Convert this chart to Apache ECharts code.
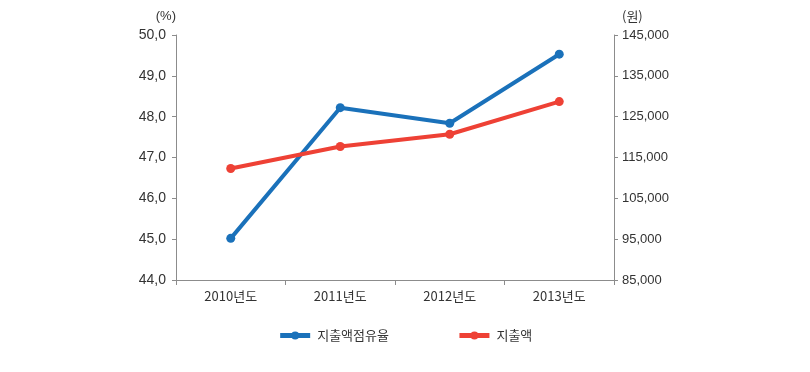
<!DOCTYPE html>
<html><head><meta charset="utf-8">
<script src="https://cdn.jsdelivr.net/npm/echarts@6/dist/echarts.min.js"></script>
<style>html,body{margin:0;padding:0;background:#fff}#c{width:810px;height:372px}</style>
</head><body><div id="c"></div>
<script>
var categories = ['2010년도','2011년도','2012년도','2013년도'];
var shareName = '지출액점유율';
var shareValues = [45.02, 48.22, 47.84, 49.53];
var spendName = '지출액';
var spendValues = [112300, 117700, 120700, 128700];
var leftTicks = {min:44, max:50, interval:1};
var rightTicks = {min:85000, max:145000, interval:10000};

var font = 'Liberation Sans, Arial, sans-serif';
var chart = echarts.init(document.getElementById('c'));
var axisStyle = {show:true, lineStyle:{color:'#8c8c8c', width:1}};
chart.setOption({
  animation:false,
  textStyle:{fontFamily:font},
  grid:{left:176, right:196, top:35, bottom:92},
  legend:{
    bottom:25, left:'center', itemGap:68, itemWidth:30, itemHeight:10,
    textStyle:{fontSize:13, color:'#333', fontFamily:'Noto Sans CJK KR', padding:[0,0,0,2]},
    lineStyle:{width:5},
    data:[shareName, spendName]
  },
  xAxis:{
    type:'category', data:categories, boundaryGap:true,
    axisLine:axisStyle, axisTick:{show:true, length:5, lineStyle:{color:'#8c8c8c'}},
    axisLabel:{fontSize:13, color:'#333', margin:10, fontFamily:'Noto Sans CJK KR'}
  },
  yAxis:[{
    type:'value', min:leftTicks.min, max:leftTicks.max, interval:leftTicks.interval,
    name:'(%)', nameLocation:'end', nameGap:12,
    nameTextStyle:{fontSize:13, color:'#333', align:'right', padding:[0,0,0,0]},
    axisLine:axisStyle, axisTick:{show:true, length:4, lineStyle:{color:'#8c8c8c'}},
    splitLine:{show:false},
    axisLabel:{fontSize:14, color:'#333', margin:10, formatter:function(v){return v.toFixed(1).replace('.',',');}}
  },{
    type:'value', min:rightTicks.min, max:rightTicks.max, interval:rightTicks.interval,
    name:'(원)', nameLocation:'end', nameGap:12,
    nameTextStyle:{fontSize:13, color:'#333', align:'left', padding:[0,0,0,8], fontFamily:'Noto Sans CJK KR'},
    axisLine:axisStyle, axisTick:{show:true, length:4, lineStyle:{color:'#8c8c8c'}},
    splitLine:{show:false},
    axisLabel:{fontSize:13, color:'#333', margin:8, formatter:function(v){return v.toLocaleString('en-US');}}
  }],
  series:[{
    name:shareName, type:'line', yAxisIndex:0, data:shareValues,
    symbol:'circle', symbolSize:9,
    lineStyle:{width:4, color:'#1a71ba'}, itemStyle:{color:'#1a71ba'}
  },{
    name:spendName, type:'line', yAxisIndex:1, data:spendValues,
    symbol:'circle', symbolSize:9,
    lineStyle:{width:4, color:'#ee4135'}, itemStyle:{color:'#ee4135'}
  }]
});
</script></body></html>
